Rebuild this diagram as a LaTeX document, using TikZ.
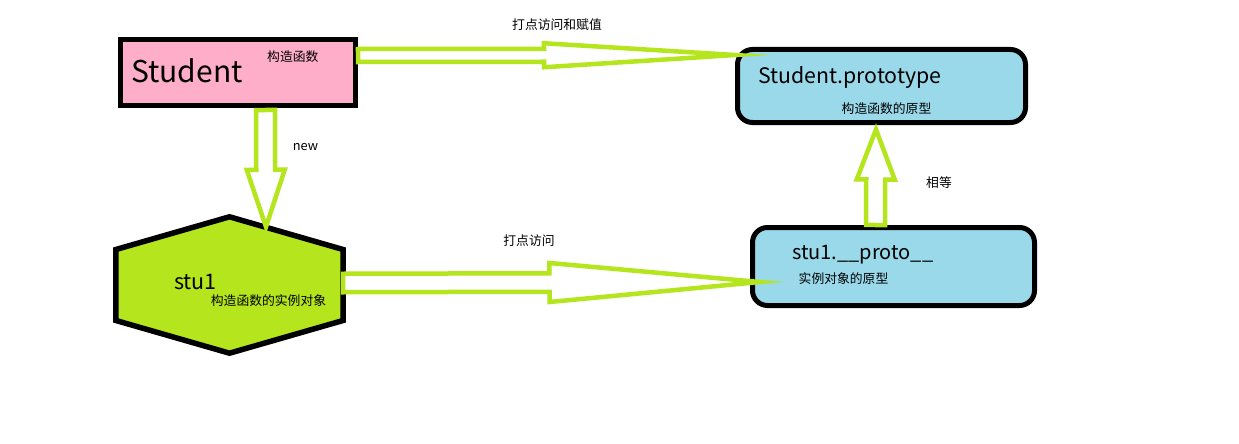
\documentclass[tikz,border=0pt]{standalone}
\usepackage{fontspec}
\setmainfont{Noto Sans CJK SC}
\usetikzlibrary{calc}
\definecolor{lime}{HTML}{B5E61D}
\definecolor{pinkfill}{HTML}{FFAEC9}
\definecolor{bluefill}{HTML}{99D9EA}
\newcommand\blockarrow[6]{%
  \coordinate (#1s) at #2;
  \coordinate (#1t) at #3;
  \coordinate (#1b) at ($(#1t)!#6!(#1s)$);
  \draw[blockarr] ($(#1s)!#4!90:(#1t)$) -- ($(#1b)!#4!-90:(#1s)$) -- ($(#1b)!#5!-90:(#1s)$) -- (#1t)
    -- ($(#1b)!#5!90:(#1s)$) -- ($(#1b)!#4!90:(#1s)$) -- ($(#1s)!#4!-90:(#1t)$) -- cycle;
}
\tikzset{
  blockarr/.style={draw=lime, fill=white, line width=4.5pt, line join=miter, miter limit=30},
  boxline/.style={draw=black, line width=5pt, inner sep=0pt},
  small/.style={inner sep=0pt, font=\fontsize{12.8}{14}\selectfont},
}
\begin{document}
\begin{tikzpicture}[x=1pt,y=-1pt]
\useasboundingbox[fill=white] (0,0) rectangle (1239,444);
% boxes
\node[boxline, fill=pinkfill, minimum width=235pt, minimum height=66pt] (student) at (238,72.5) {};
\node[boxline, fill=bluefill, rounded corners=15pt, minimum width=288pt, minimum height=73pt] (proto) at (881.5,86) {};
\node[boxline, fill=bluefill, rounded corners=15pt, minimum width=282pt, minimum height=78pt] (proto2) at (893.5,266.5) {};
\node[minimum width=227pt, minimum height=136pt, inner sep=0pt] (hex) at (229.5,285) {};
\draw[line width=5.5pt, fill=lime, line join=miter] (hex.north)
  -- ($(hex.north east)!0.24!(hex.south east)$) -- ($(hex.north east)!0.76!(hex.south east)$)
  -- (hex.south)
  -- ($(hex.north west)!0.76!(hex.south west)$) -- ($(hex.north west)!0.24!(hex.south west)$) -- cycle;
% texts
\node[inner sep=0pt, anchor=base west, font=\fontsize{30}{34}\selectfont] (tstudent) at (131,82) {Student};
\node[small, anchor=west] (tctor) at (267,57) {构造函数};
\node[inner sep=0pt, anchor=base west, font=\fontsize{21.3}{25}\selectfont] (tproto) at (758,83) {Student.prototype};
\node[small] (tprotocn) at (886.5,109) {构造函数的原型};
\node[inner sep=0pt, anchor=base west, font=\fontsize{21.5}{25}\selectfont] (tstu) at (174,289) {stu1};
\node[small] (tstucn) at (268.5,301) {构造函数的实例对象};
\node[inner sep=0pt, anchor=base west, font=\fontsize{20}{24}\selectfont] (tproto2) at (792,259) {stu1.\_\_proto\_\_};
\node[small] (tproto2cn) at (843.5,279) {实例对象的原型};
% arrows
\blockarrow{a1}{([yshift=17pt]student.east)}{([yshift=31pt]proto.west)}{6.5pt}{12pt}{191pt}
\blockarrow{a2}{([xshift=27.5pt,yshift=-2pt]student.south)}{([xshift=36.5pt,yshift=-10pt]hex.north)}{9.5pt}{19pt}{57pt}
\blockarrow{a3}{([yshift=2pt]hex.east)}{([xshift=9.5pt,yshift=-15.5pt]proto2.west)}{9.25pt}{19.5pt}{210pt}
\blockarrow{a4}{([xshift=-18pt]proto2.north)}{([xshift=-5.5pt,yshift=-4.5pt]proto.south)}{9.5pt}{19pt}{50pt}
% arrow labels
\node[small] (l1) at (557,25) {打点访问和赋值};
\node[small] (l2) at (305.5,147) {new};
\node[small] (l3) at (529,241) {打点访问};
\node[small] (l4) at (939,183) {相等};
\end{tikzpicture}
\end{document}
